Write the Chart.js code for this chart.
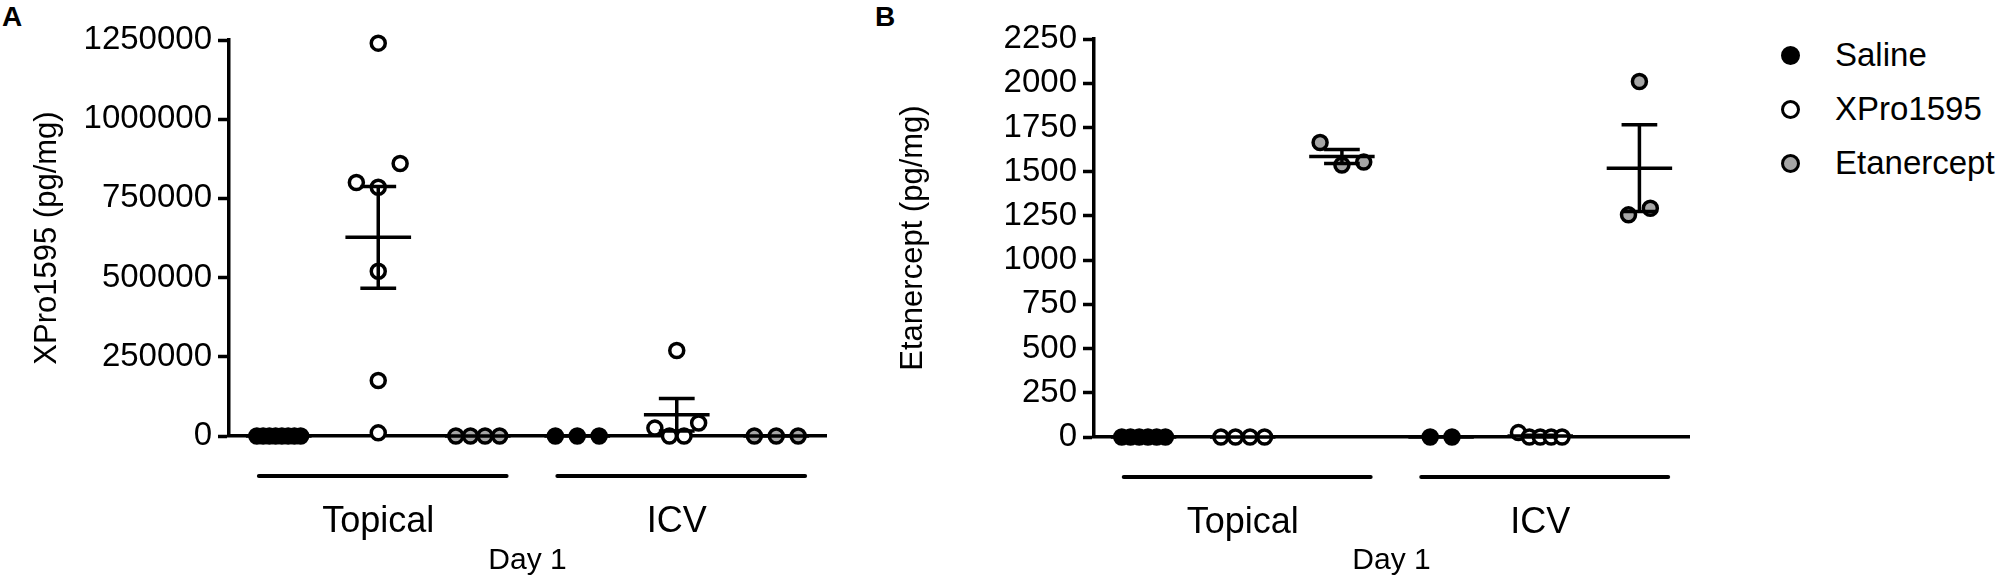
<!DOCTYPE html>
<html>
<head>
<meta charset="utf-8">
<script src="https://cdn.jsdelivr.net/npm/chart.js"></script>
<style>
  html, body { margin: 0; padding: 0; background: #fff; }
  body { width: 1998px; height: 586px; position: relative; overflow: hidden;
         font-family: 'Liberation Sans', Arial, sans-serif; color: #000; }
  .letter { position: absolute; top: 3px; font-size: 28px; font-weight: bold; line-height: 1; }
  #chartA { position: absolute; left: 0; top: 0; }
  #chartB { position: absolute; left: 880px; top: 0; }
  #legend { position: absolute; left: 1781px; top: 39px; }
  .item { display: flex; align-items: center; height: 32px; margin-bottom: 22px;
          font-size: 33px; line-height: 32px; white-space: nowrap; }
  .dot { width: 13px; height: 13px; border: 3px solid #000; border-radius: 50%; margin-right: 35px; }
</style>
</head>
<body>
<div class="letter" style="left:2px">A</div>
<div class="letter" style="left:875px">B</div>
<canvas id="chartA" width="880" height="586"></canvas>
<canvas id="chartB" width="840" height="586"></canvas>
<div id="legend"></div>
<script>
// groups on the x axis and the three treatments in each group
const groups = ['Topical', 'ICV'];
const treatments = ['Saline', 'XPro1595', 'Etanercept'];
const fills = ['#000000', '#ffffff', '#a6a6a6'];

// Panel A - XPro1595 (pg/mg), one array per animal group
const xproTopicalSaline = [0, 0, 0, 0, 0, 0, 0, 0];
const xproTopicalXPro = [1240000, 800000, 785000, 860000, 520000, 175000, 10000];
const xproTopicalEtan = [0, 0, 0, 0];
const xproIcvSaline = [0, 0, 0];
const xproIcvXPro = [270000, 25000, 0, 0, 41000];
const xproIcvEtan = [0, 0, 0];
const xproTicks = [0, 250000, 500000, 750000, 1000000, 1250000];

// Panel B - Etanercept (pg/mg)
const etanTopicalSaline = [0, 0, 0, 0, 0, 0];
const etanTopicalXPro = [0, 0, 0, 0];
const etanTopicalEtan = [1665, 1538, 1554];
const etanIcvSaline = [0, 0];
const etanIcvXPro = [25, 0, 0, 0, 0];
const etanIcvEtan = [2010, 1256, 1293];
const etanTicks = [0, 250, 500, 750, 1000, 1250, 1500, 1750, 2000, 2250];

Chart.defaults.font.family = "'Liberation Sans', Arial, sans-serif";
Chart.defaults.color = '#000';

// spread points that sit close together (like a column scatter plot)
// returns x offsets in category units
function spreadOffsets(values, range) {
    const order = values.map((v, i) => i).sort((a, b) => values[a] - values[b]);
    const thr = 0.06 * range;
    const clusters = [];
    let cur = [order[0]];
    for (let k = 1; k < order.length; k++) {
        if (values[order[k]] - values[order[k - 1]] < thr) cur.push(order[k]);
        else { clusters.push(cur); cur = [order[k]]; }
    }
    clusters.push(cur);
    const off = values.map(() => 0);
    clusters.forEach(c => {
        const n = c.length;
        if (n < 2) return;
        c.sort((a, b) => a - b);
        const step = Math.min(0.22, 0.44 / (n - 1));
        c.forEach((i, j) => { off[i] = (j - (n - 1) / 2) * step; });
    });
    return off;
}

function makePanel(id, cols, ticks, yTitle, box) {
    const yMax = ticks[ticks.length - 1];

    const datasets = treatments.map((name, t) => {
        const pts = [];
        groups.forEach((g, gi) => {
            const vals = cols[gi][t];
            const off = spreadOffsets(vals, yMax);
            vals.forEach((v, i) => pts.push({ x: gi * 3 + t + off[i], y: v }));
        });
        return {
            label: name,
            data: pts,
            pointRadius: 7,
            pointBorderWidth: 3.5,
            pointBorderColor: '#000',
            pointBackgroundColor: fills[t],
            clip: false
        };
    });

    // mean +/- SEM lines and the group underlines
    const summary = {
        id: 'summary',
        afterDatasetsDraw(chart) {
            const { ctx, chartArea } = chart;
            const x = chart.scales.x, y = chart.scales.y;
            ctx.save();
            ctx.strokeStyle = '#000';
            ctx.lineWidth = 3.5;
            const seg = (x1, y1, x2, y2) => {
                ctx.beginPath(); ctx.moveTo(x1, y1); ctx.lineTo(x2, y2); ctx.stroke();
            };
            cols.forEach((row, gi) => row.forEach((vals, t) => {
                const c = gi * 3 + t;
                const n = vals.length;
                const m = vals.reduce((a, b) => a + b, 0) / n;
                const sd = Math.sqrt(vals.reduce((a, b) => a + (b - m) * (b - m), 0) / (n - 1));
                const sem = sd / Math.sqrt(n);
                const ym = y.getPixelForValue(m);
                seg(x.getPixelForValue(c - 0.33), ym, x.getPixelForValue(c + 0.33), ym);
                if (sem > 0) {
                    const yHi = y.getPixelForValue(m + sem);
                    const yLo = y.getPixelForValue(m - sem);
                    const xc = x.getPixelForValue(c);
                    seg(xc, yHi, xc, yLo);
                    seg(x.getPixelForValue(c - 0.18), yHi, x.getPixelForValue(c + 0.18), yHi);
                    seg(x.getPixelForValue(c - 0.18), yLo, x.getPixelForValue(c + 0.18), yLo);
                }
            }));
            ctx.lineWidth = 4;
            ctx.lineCap = 'round';
            const gy = chartArea.bottom + 40;
            groups.forEach((g, gi) => {
                seg(x.getPixelForValue(gi * 3 - 0.2), gy, x.getPixelForValue(gi * 3 + 2.29), gy);
            });
            ctx.restore();
        }
    };

    return new Chart(document.getElementById(id), {
        type: 'scatter',
        data: { datasets: datasets },
        plugins: [summary],
        options: {
            responsive: false,
            animation: false,
            events: [],
            layout: { padding: { top: box.top, right: box.right, left: 0, bottom: 0 } },
            plugins: { legend: { display: false }, tooltip: { enabled: false } },
            scales: {
                x: {
                    type: 'linear',
                    min: -0.5,
                    max: 5.5,
                    afterBuildTicks: (s) => { s.ticks = groups.map((g, gi) => ({ value: gi * 3 + 1 })); },
                    afterFit: (s) => { s.height = box.xHeight; },
                    ticks: {
                        color: '#000', font: { size: 36 }, padding: 64,
                        maxRotation: 0, autoSkip: false,
                        callback: (v, i) => groups[i]
                    },
                    grid: { display: false, drawTicks: false },
                    border: { display: true, color: '#000', width: 3.5 },
                    title: { display: true, text: 'Day 1', color: '#000', font: { size: 30 },
                             padding: { top: 0, bottom: 7 } }
                },
                y: {
                    type: 'linear',
                    min: ticks[0],
                    max: yMax,
                    afterBuildTicks: (s) => { s.ticks = ticks.map(v => ({ value: v })); },
                    afterFit: (s) => { s.width = box.yWidth; },
                    ticks: { color: '#000', font: { size: 33 }, padding: 6, callback: (v) => String(v) },
                    grid: { display: true, drawOnChartArea: false, drawTicks: true,
                            tickLength: 11, tickWidth: 3.5, tickColor: '#000' },
                    border: { display: true, color: '#000', width: 3.5 },
                    title: { display: true, text: yTitle, color: '#000', font: { size: 31 },
                             padding: { top: box.titlePad, bottom: 0 } }
                }
            }
        }
    });
}

makePanel('chartA',
    [[xproTopicalSaline, xproTopicalXPro, xproTopicalEtan],
     [xproIcvSaline, xproIcvXPro, xproIcvEtan]],
    xproTicks, 'XPro1595 (pg/mg)',
    { yWidth: 229, xHeight: 150, top: 40, right: 54, titlePad: 29 });

makePanel('chartB',
    [[etanTopicalSaline, etanTopicalXPro, etanTopicalEtan],
     [etanIcvSaline, etanIcvXPro, etanIcvEtan]],
    etanTicks, 'Etanercept (pg/mg)',
    { yWidth: 214, xHeight: 149, top: 39, right: 31, titlePad: 15 });

// legend
const legend = document.getElementById('legend');
treatments.forEach((name, t) => {
    const item = document.createElement('div');
    item.className = 'item';
    const dot = document.createElement('span');
    dot.className = 'dot';
    dot.style.background = fills[t];
    item.appendChild(dot);
    item.appendChild(document.createTextNode(name));
    legend.appendChild(item);
});
</script>
</body>
</html>
